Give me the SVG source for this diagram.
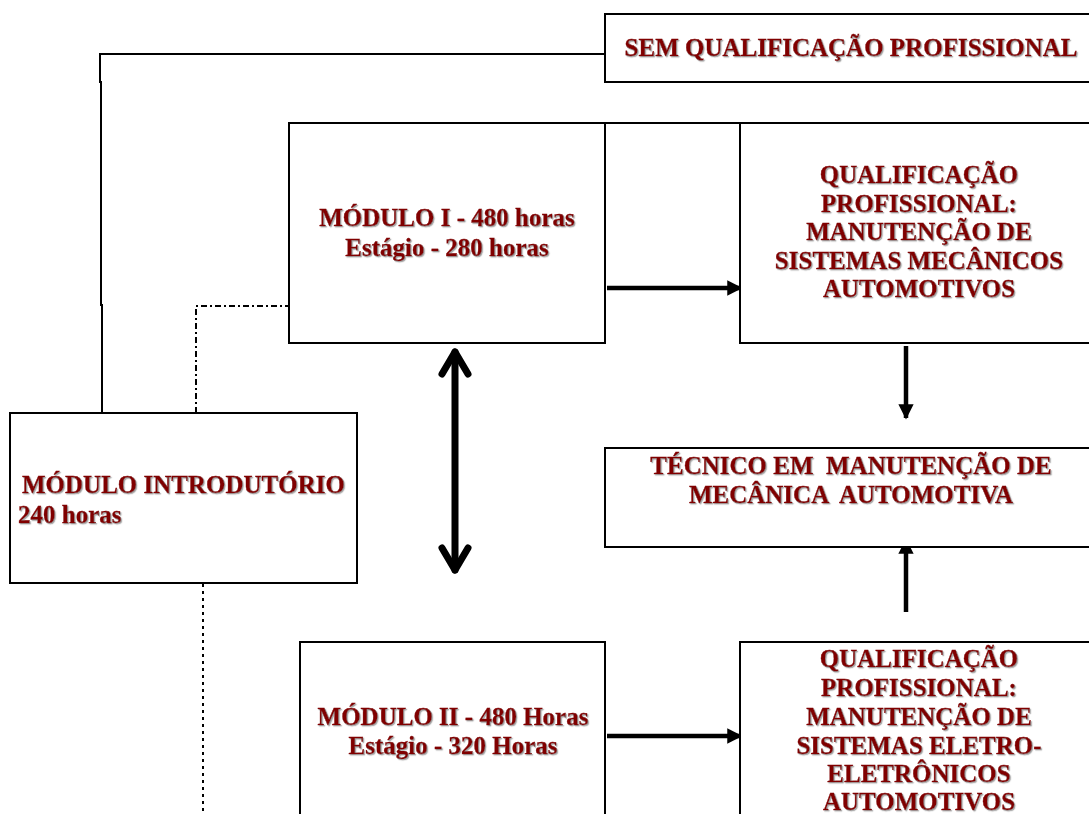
<svg xmlns="http://www.w3.org/2000/svg" width="1089" height="814" viewBox="0 0 1089 814">
<defs>
<filter id="sh" x="-5%" y="-20%" width="110%" height="140%">
<feDropShadow dx="1.2" dy="1.2" stdDeviation="0.6" flood-color="#9a9a9a" flood-opacity="0.9"/>
</filter>
<marker id="ah" viewBox="0 0 10 10" refX="9" refY="5" markerWidth="3.8" markerHeight="3.4" orient="auto" markerUnits="strokeWidth">
<path d="M0,0 L10,5 L0,10 z" fill="#000"/>
</marker>
</defs>
<style>
.box{fill:#fff;stroke:#000;stroke-width:2}
.t{font-family:"Liberation Serif","Times New Roman",serif;font-weight:bold;font-size:25px;fill:#800000;stroke:#800000;stroke-width:0.35;filter:url(#sh)}
.c{text-anchor:middle}
.ln{fill:none;stroke:#000;stroke-width:2}
.arr{fill:none;stroke:#000;stroke-width:4.5}
</style>
<rect width="1089" height="814" fill="#fff"/>
<g id="connectors">
<path class="ln" d="M102,413 V305 H101 V82 H100 V54 H605"/>
<path class="ln" d="M196,413 V306 H289" stroke-dasharray="6 3 2 3"/>
<path class="ln" d="M203,584 V814" stroke-dasharray="3 4" stroke-width="2.5"/>
<line class="arr" x1="607" y1="288" x2="741" y2="288" marker-end="url(#ah)"/>
<line class="arr" x1="607" y1="736" x2="741" y2="736" marker-end="url(#ah)"/>
<line class="arr" x1="906" y1="346" x2="906" y2="418" marker-end="url(#ah)"/>
<line class="arr" x1="906" y1="612" x2="906" y2="540" marker-end="url(#ah)"/>
<g fill="none" stroke="#000" stroke-width="7" stroke-linecap="round" stroke-linejoin="round">
<line x1="455" y1="352" x2="455" y2="570"/>
<polyline points="442,374 455,352 468,374"/>
<polyline points="442,548 455,570 468,548"/>
</g>
</g>
<g id="sem-qualificacao">
<rect class="box" x="605" y="14" width="500" height="68"/>
<text class="t c" x="851" y="56">SEM QUALIFICAÇÃO PROFISSIONAL</text>
</g>
<g id="modulo-1">
<line class="ln" x1="289" y1="123" x2="1089" y2="123"/>
<rect class="box" x="289" y="123" width="316" height="220"/>
<text class="t c" x="447" y="226">MÓDULO I - 480 horas</text>
<text class="t c" x="447" y="256">Estágio - 280 horas</text>
</g>
<g id="qualificacao-mecanicos">
<rect class="box" x="740" y="123" width="360" height="220"/>
<text class="t c" x="919" y="183">QUALIFICAÇÃO</text>
<text class="t c" x="919" y="212">PROFISSIONAL:</text>
<text class="t c" x="919" y="240">MANUTENÇÃO DE</text>
<text class="t c" x="919" y="269">SISTEMAS MECÂNICOS</text>
<text class="t c" x="919" y="297">AUTOMOTIVOS</text>
</g>
<g id="tecnico">
<rect class="box" x="605" y="448" width="500" height="99"/>
<text class="t c" x="851" y="474" xml:space="preserve">TÉCNICO EM  MANUTENÇÃO DE</text>
<text class="t c" x="851" y="503" xml:space="preserve">MECÂNICA  AUTOMOTIVA</text>
</g>
<g id="modulo-introdutorio">
<rect class="box" x="10" y="413" width="347" height="170"/>
<text class="t" x="22" y="493">MÓDULO INTRODUTÓRIO</text>
<text class="t" x="18" y="523">240 horas</text>
</g>
<g id="modulo-2">
<rect class="box" x="300" y="642" width="305" height="190"/>
<text class="t c" x="453" y="725">MÓDULO II - 480 Horas</text>
<text class="t c" x="453" y="754">Estágio - 320 Horas</text>
</g>
<g id="qualificacao-eletro">
<rect class="box" x="740" y="642" width="360" height="190"/>
<text class="t c" x="919" y="667">QUALIFICAÇÃO</text>
<text class="t c" x="919" y="696">PROFISSIONAL:</text>
<text class="t c" x="919" y="725">MANUTENÇÃO DE</text>
<text class="t c" x="919" y="754">SISTEMAS ELETRO-</text>
<text class="t c" x="919" y="782">ELETRÔNICOS</text>
<text class="t c" x="919" y="810">AUTOMOTIVOS</text>
</g>
</svg>
